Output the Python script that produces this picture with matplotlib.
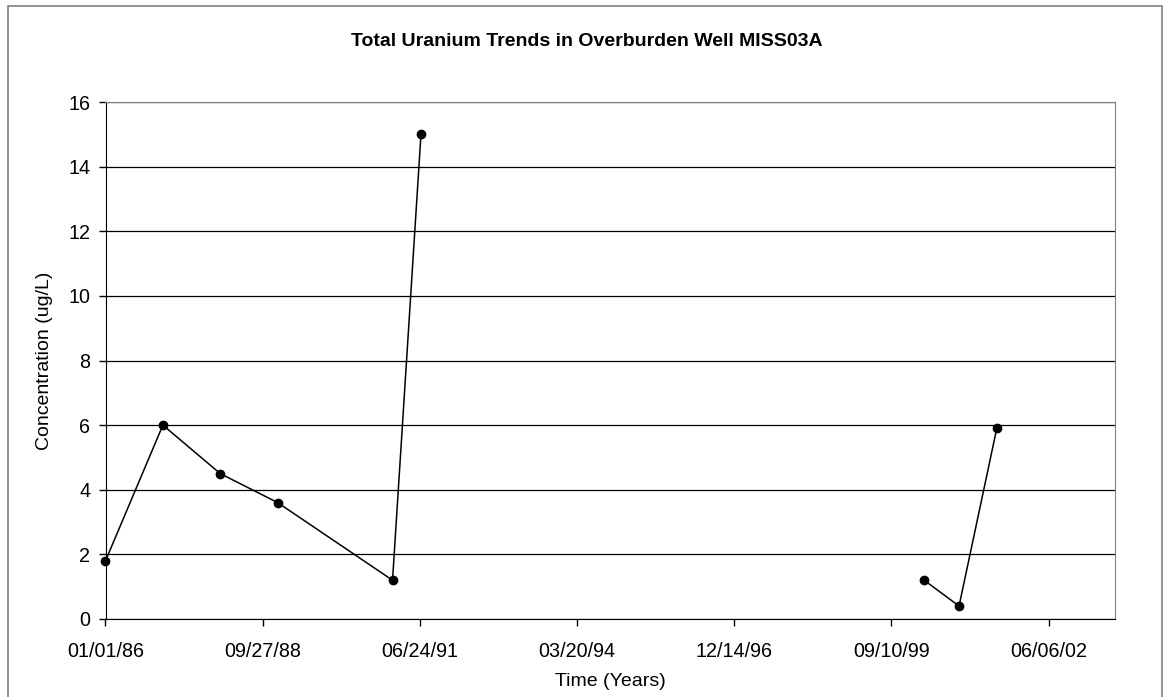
import matplotlib
matplotlib.use('Agg')
import matplotlib.pyplot as plt
import matplotlib.dates as mdates
from matplotlib.patches import Rectangle
import numpy as np
import datetime as dt

plt.rcParams['font.family'] = ['Liberation Sans', 'DejaVu Sans']

# sample dates and total uranium (ug/L); NaN marks the gap in sampling
dates = ['1986-01-01', '1987-01-01', '1988-01-01', '1989-01-01', '1991-01-01',
         '1991-07-01', '1995-01-01', '2000-04-05', '2000-11-13', '2001-07-11']
uranium = [1.8, 6.0, 4.5, 3.6, 1.2, 15.0, np.nan, 1.2, 0.4, 5.9]

x_start = dt.date(1986, 1, 1)
x_major_days = 1000
x_span_days = 6424

t = mdates.date2num([dt.date.fromisoformat(d) for d in dates])

fig = plt.figure(figsize=(11.64, 6.97), dpi=100)
ax = fig.add_axes([105.5/1164, 1-619/697, (1115.3-105.5)/1164, (619-102)/697])

# chart area border
fig.patches.append(Rectangle((8/1164, -0.05), (1162-8)/1164, 1.05-6/697,
                             transform=fig.transFigure, fill=False,
                             edgecolor='#808080', linewidth=1.2))

ax.plot(t, uranium, color='black', linewidth=1.1, marker='o', markersize=6,
        clip_on=False, zorder=3)

x0 = mdates.date2num(x_start)
ax.set_xlim(x0, x0 + x_span_days)
ax.set_xticks(x0 + np.arange(0, 7)*x_major_days)
ax.xaxis.set_major_formatter(mdates.DateFormatter('%m/%d/%y'))
ax.set_ylim(0, 16)
ax.set_yticks(np.arange(0, 17, 2))

ax.yaxis.grid(True, color='black', linewidth=0.9)
ax.set_axisbelow(True)
for s in ['top', 'right']:
    ax.spines[s].set_color('#808080')
for s in ['left', 'bottom']:
    ax.spines[s].set_color('black')
ax.tick_params(axis='both', direction='out', length=5, width=1, labelsize=14.2)
ax.tick_params(axis='x', pad=11.5)
ax.tick_params(axis='y', pad=6)

ax.set_xlabel('Time (Years)', fontsize=14, labelpad=9)
ax.set_ylabel('Concentration (ug/L)', fontsize=14, labelpad=11)
fig.text(587/1164, 1-41/697, 'Total Uranium Trends in Overburden Well MISS03A',
         ha='center', va='center', fontsize=14, fontweight='bold')

fig.savefig('out.png', dpi=100)
